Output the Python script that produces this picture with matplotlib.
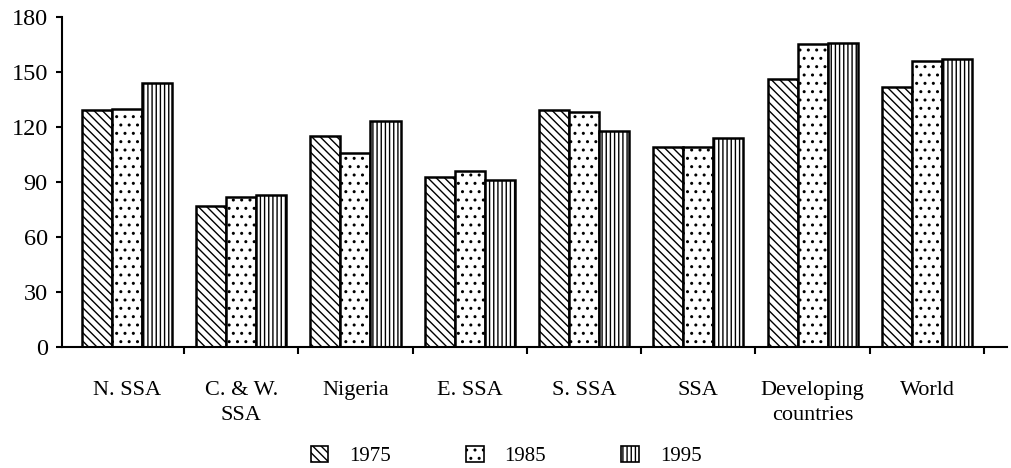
import matplotlib
matplotlib.use('Agg')
import matplotlib.pyplot as plt
import numpy as np
from matplotlib.patches import Patch

plt.rcParams['font.family'] = ['Liberation Serif', 'DejaVu Serif']
plt.rcParams['hatch.linewidth'] = 1.0

# data
regions = ['N. SSA', 'C. & W.\nSSA', 'Nigeria', 'E. SSA', 'S. SSA', 'SSA',
           'Developing\ncountries', 'World']
years = ['1975', '1985', '1995']
v1975 = [129, 77, 115, 93, 129, 109, 146, 142]
v1985 = [130, 82, 106, 96, 128, 109, 165, 156]
v1995 = [144, 83, 123, 91, 118, 114, 166, 157]

hatches = ['\\\\\\\\', '..', '||||']

fig = plt.figure(figsize=(10.12, 4.68), dpi=100)
ax = fig.add_axes([0.061, 0.258, 0.934, 0.706])

x = np.arange(len(regions))
w = 0.263
for i, (vals, h) in enumerate(zip([v1975, v1985, v1995], hatches)):
    ax.bar(x + (i - 1) * w, vals, width=w, facecolor='white', edgecolor='black',
           hatch=h, linewidth=1.8, zorder=2)

ax.set_ylim(0, 180)
ax.set_yticks(np.arange(0, 181, 30))
ax.set_xlim(-0.57, 7.70)
ax.set_xticks(x)
ax.set_xticklabels(regions, fontsize=16, linespacing=1.45, va='top')
ax.set_xticks(np.arange(0.5, 8, 1), minor=True)

ax.tick_params(axis='x', which='major', length=0, pad=24)
ax.tick_params(axis='x', which='minor', direction='out', length=5, width=1.5)
ax.tick_params(axis='y', direction='out', length=4, width=1.5, labelsize=17.5, pad=6)

ax.spines['top'].set_visible(False)
ax.spines['right'].set_visible(False)
ax.spines['left'].set_linewidth(1.5)
ax.spines['bottom'].set_linewidth(1.5)

handles = [Patch(facecolor='white', edgecolor='black', hatch=h, linewidth=1.2, label=y)
           for h, y in zip(hatches, years)]
fig.legend(handles=handles, loc='lower center', bbox_to_anchor=(0.5, -0.036), ncol=3,
           frameon=False, fontsize=15, handlelength=0.85, handleheight=0.85,
           handletextpad=1.0, columnspacing=3.6)

plt.savefig('out.png', dpi=100, facecolor='white')
plt.close()
